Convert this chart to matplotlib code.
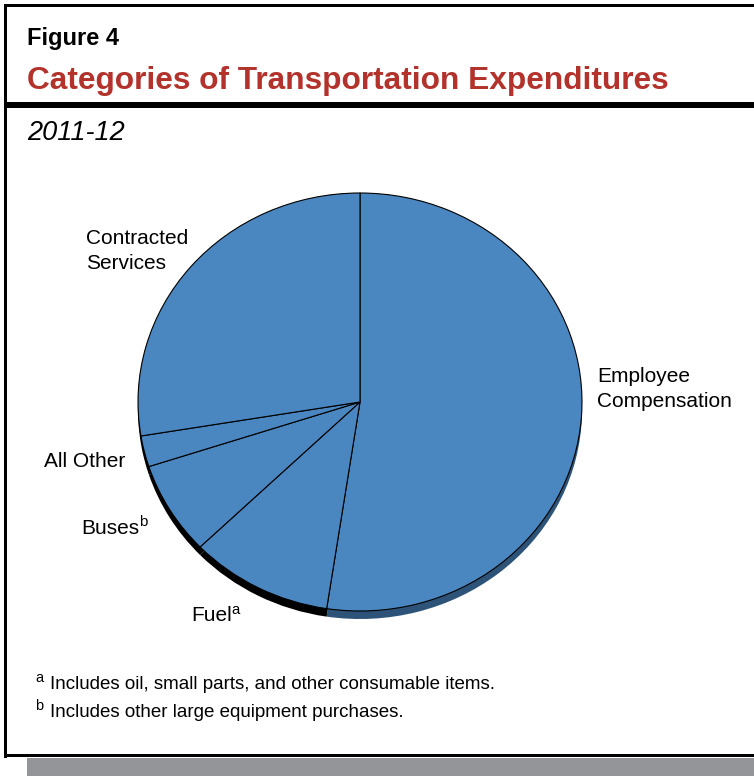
import matplotlib
matplotlib.use("Agg")
import matplotlib.pyplot as plt
from matplotlib.patches import Rectangle

plt.rcParams["font.family"] = ["Liberation Sans", "DejaVu Sans"]

# ---- data -------------------------------------------------------------
categories = ["Employee Compensation", "Fuel", "Buses", "All Other", "Contracted Services"]
shares = [52.4, 10.4, 7.2, 2.4, 27.6]          # percent of 2011-12 spending
footnotes = [("a", "Includes oil, small parts, and other consumable items."),
             ("b", "Includes other large equipment purchases.")]

FACE = "#4a86bf"
SIDE = ["#2d5478", "black", "black", "black", "black"]
RED = "#b3322b"

W, H = 754, 776
fig = plt.figure(figsize=(W / 100, H / 100), dpi=100)

# background axes in pixel units (origin top-left)
bg = fig.add_axes([0, 0, 1, 1])
bg.set_xlim(0, W)
bg.set_ylim(H, 0)
bg.axis("off")

# frame, title rule and drop shadow
bg.add_patch(Rectangle((27, 758), W - 27, 18, color="#939598", lw=0))
bg.add_patch(Rectangle((3.5, 3.5), 3, 754, color="black", lw=0))
bg.add_patch(Rectangle((3.5, 3.5), W, 3, color="black", lw=0))
bg.add_patch(Rectangle((3.5, 754), W, 3, color="black", lw=0))
bg.add_patch(Rectangle((3.5, 101.5), W, 6.5, color="black", lw=0))

bg.text(27, 45, "Figure 4", fontsize=17, fontweight="bold", va="baseline")
bg.text(27, 88.5, "Categories of Transportation Expenditures", fontsize=22.8,
        fontweight="bold", color=RED, va="baseline")
bg.text(27, 140, "2011-12", fontsize=19.5, style="italic", va="baseline")

renderer = fig.canvas.get_renderer()
LABEL = 15


def text_sup(x, y, main, sup, size):
    t = bg.text(x, y, main, fontsize=size, va="baseline")
    bb = t.get_window_extent(renderer)
    xr = bg.transData.inverted().transform((bb.x1, bb.y0))[0]
    bg.text(xr - 0.5, y - size * 0.5, sup, fontsize=size * 0.72, va="baseline")


# slice labels
bg.text(597, 382, "Employee", fontsize=LABEL, va="baseline")
bg.text(597, 407, "Compensation", fontsize=LABEL, va="baseline")
bg.text(86, 244, "Contracted", fontsize=LABEL, va="baseline")
bg.text(86, 269, "Services", fontsize=LABEL, va="baseline")
bg.text(44, 467, "All Other", fontsize=LABEL, va="baseline")
text_sup(81, 534, "Buses", "b", LABEL)
text_sup(191, 621, "Fuel", "a", LABEL)

# footnotes
for i, (mark, note) in enumerate(footnotes):
    yb = 689 + 28 * i
    bg.text(35, yb - 7, mark, fontsize=10.5, va="baseline")
    bg.text(50, yb, note, fontsize=13.5, va="baseline")

# ---- pie (slightly flattened, with a thin side for depth) -------------
cx, cy, rx, ry = 360, 402, 222, 209
m = 1.1
pax = fig.add_axes([(cx - rx * m) / W, (H - (cy + ry * m)) / H,
                    2 * rx * m / W, 2 * ry * m / H])
depth = 8 / ry

pax.pie(shares, colors=SIDE, startangle=90, counterclock=False,
        center=(0, -depth), radius=1, wedgeprops=dict(linewidth=0))
pax.pie(shares, colors=[FACE] * len(shares), startangle=90, counterclock=False,
        center=(0, 0), radius=1,
        wedgeprops=dict(edgecolor="black", linewidth=0.8))
pax.set_aspect("auto")
pax.set_xlim(-m, m)
pax.set_ylim(-m, m)
pax.axis("off")

fig.savefig("out.png", dpi=100)
